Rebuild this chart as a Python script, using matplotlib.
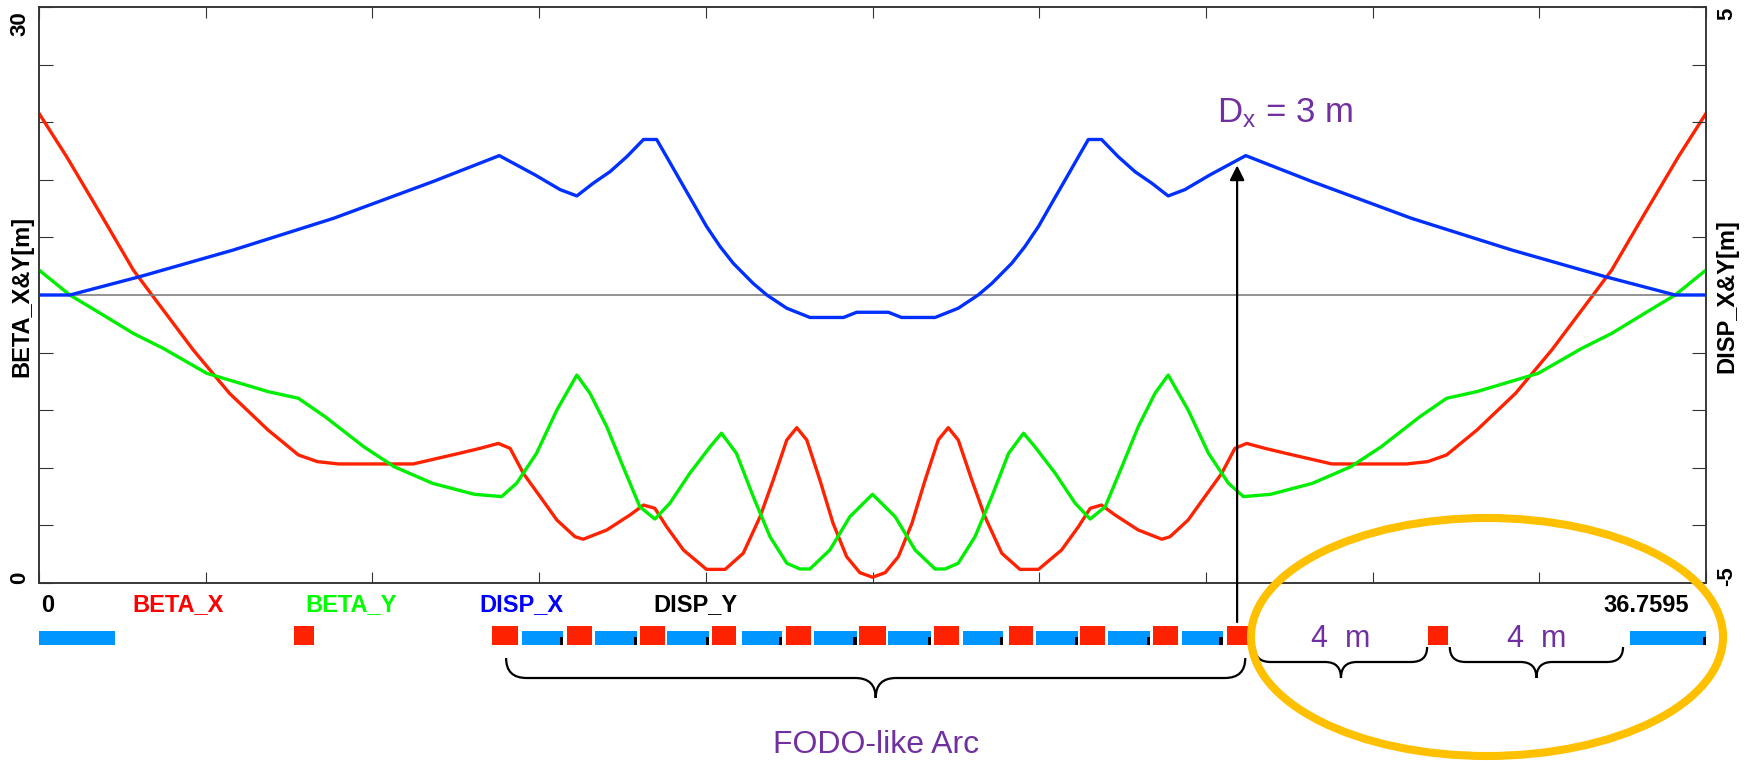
import matplotlib
matplotlib.use("Agg")
import matplotlib.pyplot as plt
import numpy as np
from matplotlib.patches import Ellipse, Rectangle, PathPatch
from matplotlib.path import Path

plt.rcParams["font.family"] = ["Liberation Sans", "DejaVu Sans"]
plt.rcParams["mathtext.fontset"] = "custom"
plt.rcParams["mathtext.rm"] = "Liberation Sans"
plt.rcParams["mathtext.it"] = "Liberation Sans"

LENGTH = 36.7595

# optics (s in m)
S_BETA_X = [0.00, 0.61, 1.35, 2.08, 2.52, 3.40, 4.20, 5.05, 5.72, 6.14, 6.61, 8.25, 9.26, 9.72,
            10.13, 10.39, 10.68, 11.05, 11.42, 11.82, 12.00, 12.52, 13.03, 13.33, 13.58, 13.84,
            14.21, 14.72, 15.13, 15.53, 15.90, 16.19, 16.49, 16.71, 16.93, 17.22, 17.51, 17.81,
            18.10, 18.38,
            18.66, 18.95, 19.25, 19.54, 19.83, 20.05, 20.27, 20.57, 20.86, 21.23, 21.63, 22.04,
            22.55, 22.92, 23.18, 23.43, 23.73, 24.24, 24.76, 24.94, 25.34, 25.71, 26.08, 26.37,
            26.63, 27.04, 27.50, 28.51, 30.15, 30.62, 31.04, 31.71, 32.56, 33.36, 34.24, 34.68,
            35.41, 36.15, 36.76]
BETA_X = [24.46, 22.2, 19.25, 16.3, 14.91, 12.14, 9.88, 7.97, 6.67, 6.32, 6.2, 6.2, 6.75, 7.01,
          7.27, 7.01, 5.71, 4.50, 3.28, 2.41, 2.28, 2.76, 3.54, 4.06, 3.89, 2.93,
          1.72, 0.71, 0.71, 1.55, 3.45, 5.36, 7.45, 8.09, 7.45, 5.36, 3.11, 1.37,
          0.54, 0.30,
          0.54, 1.37, 3.11, 5.36, 7.45, 8.09, 7.45, 5.36, 3.45, 1.55, 0.71, 0.71,
          1.72, 2.93, 3.89, 4.06, 3.54, 2.76, 2.28, 2.41, 3.28, 4.50, 5.71, 7.01,
          7.27, 7.01, 6.75, 6.2, 6.2, 6.32, 6.67, 7.97, 9.88, 12.14, 14.91, 16.3,
          19.25, 22.2, 24.46]

S_BETA_Y = [0.00, 0.68, 1.35, 2.08, 2.74, 3.70, 5.05, 5.72, 6.31, 7.16, 7.83, 8.68, 9.60,
            10.20, 10.53, 10.97, 11.42, 11.86, 12.15, 12.52, 12.88, 13.25, 13.58, 13.91, 14.35,
            14.80, 15.05, 15.38, 15.75, 16.12, 16.49, 16.78, 17.00, 17.44, 17.88, 18.38,
            18.88, 19.32, 19.76, 19.98, 20.27, 20.64, 21.01, 21.38, 21.71, 21.96, 22.41, 22.85,
            23.18, 23.51, 23.88, 24.24, 24.61, 24.90, 25.34, 25.79, 26.23, 26.56, 27.16, 28.08,
            28.93, 29.60, 30.45, 31.04, 31.71, 33.06, 34.02, 34.68, 35.41, 36.08, 36.76]
BETA_Y = [16.3, 15.0, 14.05, 13.0, 12.22, 10.92, 9.97, 9.62, 8.66, 7.10, 6.06, 5.19, 4.62,
          4.50, 5.19, 6.75, 9.01, 10.83, 9.88, 8.14, 6.06, 3.97, 3.33, 4.15, 5.71,
          7.10, 7.80, 6.75, 4.50, 2.41, 1.03, 0.73, 0.73, 1.72, 3.45, 4.62,
          3.45, 1.72, 0.73, 0.73, 1.03, 2.41, 4.50, 6.75, 7.80, 7.10, 5.71, 4.15,
          3.33, 3.97, 6.06, 8.14, 9.88, 10.83, 9.01, 6.75, 5.19, 4.50, 4.62, 5.19,
          6.06, 7.10, 8.66, 9.62, 9.97, 10.92, 12.22, 13.0, 14.05, 15.0, 16.3]

S_DISP_X = [0.00, 0.68, 2.23, 4.28, 6.49, 8.69, 10.15, 10.95, 11.49, 11.86, 12.22, 12.59, 12.96,
            13.33, 13.62, 13.84, 14.13, 14.43, 14.72, 15.02, 15.31, 15.75, 16.05, 16.49, 17.00,
            17.74, 18.03, 18.38,
            18.73, 19.02, 19.76, 20.27, 20.71, 21.01, 21.45, 21.74, 22.04, 22.33, 22.63, 22.92,
            23.14, 23.43, 23.80, 24.17, 24.54, 24.90, 25.27, 25.81, 26.61, 28.07, 30.27, 32.48,
            34.53, 36.08, 36.76]
DISP_X = [0.0, 0.0, 0.32, 0.78, 1.33, 1.97, 2.42, 2.08, 1.83, 1.72, 1.94, 2.14, 2.40,
          2.70, 2.70, 2.40, 2.00, 1.59, 1.19, 0.84, 0.55, 0.20, 0.0, -0.23, -0.39,
          -0.39, -0.30, -0.30,
          -0.30, -0.39, -0.39, -0.23, 0.0, 0.20, 0.55, 0.84, 1.19, 1.59, 2.00, 2.40,
          2.70, 2.70, 2.40, 2.14, 1.94, 1.72, 1.83, 2.08, 2.42, 1.97, 1.33, 0.78,
          0.32, 0.0, 0.0]

# lattice elements (start, end) in m
BENDS = [(0.00, 1.67), (10.66, 11.55), (12.25, 13.19), (13.85, 14.78), (15.50, 16.38),
         (17.09, 18.03), (18.73, 19.67), (20.38, 21.26), (21.98, 22.91), (23.57, 24.51),
         (25.21, 26.10), (35.09, 36.76)]
QUADS = [(5.62, 6.06), (10.00, 10.57), (11.64, 12.20), (13.25, 13.80), (14.84, 15.38),
         (16.48, 17.02), (18.09, 18.67), (19.74, 20.28), (21.38, 21.92), (22.96, 23.51),
         (24.56, 25.12), (26.19, 26.76), (30.63, 31.07)]

# annotations
ARC_SPAN = (10.30, 26.60)
DRIFT_SPANS = [(26.81, 30.61), (31.11, 34.93)]
DRIFT_LABELS = ["4  m", "4  m"]
DX_MARK = (26.42, 2.25)
LEGEND_NAMES = ["BETA_X", "BETA_Y", "DISP_X", "DISP_Y"]
LEGEND_COLORS = ["#FF0000", "#00FF00", "#0000FF", "#000000"]

RED = "#FF2200"
GREEN = "#00EE00"
BLUE = "#0030FF"
PURPLE = "#7030A0"

W, H = 1748, 761
fig = plt.figure(figsize=(W / 100, H / 100), dpi=100)


def px_box(x0, y0, x1, y1):
    return [x0 / W, 1 - y1 / H, (x1 - x0) / W, (y1 - y0) / H]


ax = fig.add_axes(px_box(39, 7, 1706, 583))
ax2 = ax.twinx()

line_kw = dict(lw=2.4, zorder=3, solid_joinstyle="round")
ax.plot(S_BETA_X, BETA_X, color=RED, **line_kw)
ax.plot(S_BETA_Y, BETA_Y, color=GREEN, **line_kw)
ax2.axhline(0, color="#808080", lw=1.2, zorder=1)
ax2.plot(S_DISP_X, DISP_X, color=BLUE, **line_kw)

ax.set_xlim(0, LENGTH)
ax.set_ylim(0, 30)
ax2.set_ylim(-5, 5)
ax.set_xticks(np.linspace(0, LENGTH, 11))
ax.set_yticks(np.arange(0, 31, 3))
ax2.set_yticks(np.arange(-5, 6, 1))
ax.tick_params(axis="x", direction="in", length=8, width=0.8, color="#333333",
               top=True, labelbottom=False)
ax.tick_params(axis="y", direction="in", length=10, width=0.8, color="#333333",
               labelleft=False)
ax2.tick_params(axis="y", direction="in", length=10, width=0.8, color="#333333",
                labelright=False)
for a in (ax, ax2):
    for sp in a.spines.values():
        sp.set_linewidth(1.1)
        sp.set_color("#333333")

tick_font = dict(fontsize=16, fontweight="bold", rotation=90, ha="center", va="center")
fig.text(20 / W, 1 - 24 / H, "30", **tick_font)
fig.text(20 / W, 1 - 578 / H, "0", **tick_font)
fig.text(1727 / W, 1 - 14 / H, "5", **tick_font)
fig.text(1727 / W, 1 - 576 / H, "-5", **tick_font)
fig.text(22 / W, 1 - 296 / H, "BETA_X&Y[m]", **{**tick_font, "fontsize": 17})
fig.text(1727 / W, 1 - 296 / H, "DISP_X&Y[m]", **{**tick_font, "fontsize": 17})

ax.text(25.98, 24.0, r"D$_{\mathrm{x}}$ = 3 m", color=PURPLE, fontsize=25,
        ha="left", va="baseline")

# lattice strip below the plot; y in image pixel rows
lat = fig.add_axes(px_box(39, 583, 1706, 761))
lat.set_xlim(0, LENGTH)
lat.set_ylim(761, 583)
lat.axis("off")

for s0, s1 in BENDS:
    lat.add_patch(Rectangle((s0, 631), s1 - s0, 14, facecolor="#0096FF", edgecolor="none"))
for s0, s1 in BENDS[1:]:
    lat.add_patch(Rectangle((s1 - 0.07, 637), 0.07, 8, facecolor="black", edgecolor="none"))
for s0, s1 in QUADS:
    lat.add_patch(Rectangle((s0, 626), s1 - s0, 19, facecolor=RED, edgecolor="none"))


def brace(a, x0, x1, y_top, y_line, y_tip, r):
    xm = (x0 + x1) / 2
    verts = [(x0, y_top), (x0, y_line), (x0 + r, y_line), (xm - r, y_line),
             (xm, y_line), (xm, y_tip), (xm, y_line), (xm + r, y_line),
             (x1 - r, y_line), (x1, y_line), (x1, y_top)]
    codes = [Path.MOVETO, Path.CURVE3, Path.CURVE3, Path.LINETO,
             Path.CURVE3, Path.CURVE3, Path.CURVE3, Path.CURVE3,
             Path.LINETO, Path.CURVE3, Path.CURVE3]
    a.add_patch(PathPatch(Path(verts, codes), facecolor="none", edgecolor="black",
                          lw=1.6, clip_on=False))


brace(lat, ARC_SPAN[0], ARC_SPAN[1], 658, 678, 698, 0.45)
lat.text(sum(ARC_SPAN) / 2, 745, "FODO-like Arc", color=PURPLE, fontsize=23,
         ha="center", va="center")
for (s0, s1), lab in zip(DRIFT_SPANS, DRIFT_LABELS):
    brace(lat, s0, s1, 647, 662, 678, 0.35)
    lat.text((s0 + s1) / 2, 639, lab, color=PURPLE, fontsize=22, ha="center", va="center")

lat.add_patch(Ellipse((31.93, 637), 10.41, 238, facecolor="none", edgecolor="#FFC000",
                      lw=5.8, clip_on=False, zorder=5))

lat.annotate("", xy=DX_MARK, xycoords=ax2.transData,
             xytext=(DX_MARK[0], 622), textcoords=lat.transData,
             arrowprops=dict(arrowstyle="-|>", color="black", lw=1.6,
                             mutation_scale=22, shrinkA=0, shrinkB=0))

lab_font = dict(fontsize=17, fontweight="bold", va="center")
lat.text(0.05, 605, "0", ha="left", **lab_font)
lat.text(36.38, 605, f"{LENGTH}", ha="right", **lab_font)
for xf, name, col in zip([0.0834, 0.187, 0.2897, 0.394], LEGEND_NAMES, LEGEND_COLORS):
    lat.text(xf * LENGTH, 605, name, color=col, ha="center", **lab_font)

fig.savefig("out.png", dpi=100)
